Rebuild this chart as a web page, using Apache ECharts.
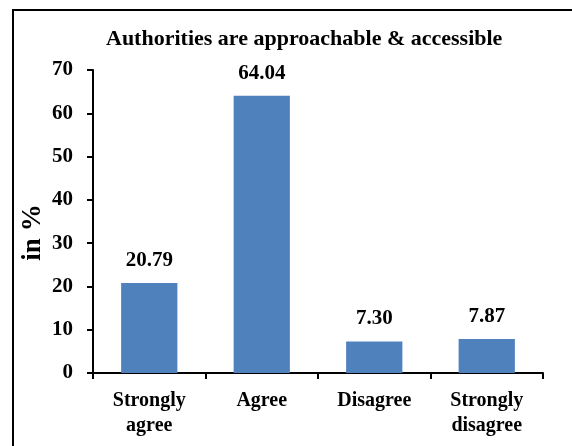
<!DOCTYPE html>
<html>
<head>
<meta charset="utf-8">
<script src="https://cdn.jsdelivr.net/npm/echarts@6/dist/echarts.min.js"></script>
<style>
html,body{margin:0;padding:0;background:#fff;}
#chart{width:572px;height:446px;}
</style>
</head>
<body>
<div id="chart"></div>
<script>
var titleText = 'Authorities are approachable & accessible';
var categories = ['Strongly\nagree', 'Agree', 'Disagree', 'Strongly\ndisagree'];
var values = [20.79, 64.04, 7.30, 7.87];
var yTicks = [0, 10, 20, 30, 40, 50, 60, 70];
var yName = 'in %';

var FONT = '"Liberation Serif", "Times New Roman", serif';
var chart = echarts.init(document.getElementById('chart'), null, {renderer: 'canvas'});
chart.setOption({
  backgroundColor: '#fff',
  animation: false,
  title: {
    text: titleText,
    left: 106,
    top: 28,
    padding: 0,
    textStyle: {fontFamily: FONT, fontWeight: 'bold', fontSize: 22, color: '#000'}
  },
  graphic: [{
    type: 'rect',
    shape: {x: 13, y: 10, width: 620, height: 500},
    style: {fill: 'none', stroke: '#000', lineWidth: 2},
    silent: true
  }],
  grid: {left: 93, right: 29, top: 70, bottom: 73, containLabel: false},
  xAxis: {
    type: 'category',
    data: categories,
    axisLine: {lineStyle: {color: '#000', width: 2}},
    axisTick: {show: true, length: 6, inside: false, lineStyle: {color: '#000', width: 2}},
    axisLabel: {
      margin: 15, fontFamily: FONT, fontWeight: 'bold', fontSize: 20, color: '#000',
      lineHeight: 25, interval: 0
    }
  },
  yAxis: {
    type: 'value',
    min: yTicks[0],
    max: yTicks[yTicks.length - 1],
    interval: 10,
    name: yName,
    nameLocation: 'middle',
    nameGap: 46,
    nameRotate: 90,
    nameMoveOverlap: false,
    nameTextStyle: {fontFamily: FONT, fontWeight: 'bold', fontSize: 27, color: '#000', padding: [0, 22, 0, 0]},
    axisLine: {show: true, lineStyle: {color: '#000', width: 2}},
    axisTick: {show: true, length: 6, inside: false, lineStyle: {color: '#000', width: 2}},
    axisLabel: {margin: 20, fontFamily: FONT, fontWeight: 'bold', fontSize: 21, color: '#000'},
    splitLine: {show: false}
  },
  series: [{
    type: 'bar',
    data: values,
    barWidth: '50%',
    itemStyle: {color: '#4F81BD'},
    label: {
      show: true,
      position: 'top',
      distance: 12,
      formatter: function (p) { return p.value.toFixed(2); },
      fontFamily: FONT, fontWeight: 'bold', fontSize: 21, color: '#000'
    }
  }]
});
</script>
</body>
</html>
